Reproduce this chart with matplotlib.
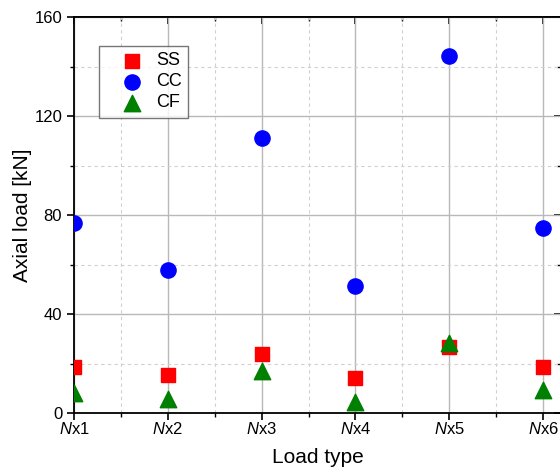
import numpy as np
import matplotlib.pyplot as plt
from matplotlib.ticker import MultipleLocator, FixedLocator

# -- Data
load_types = ['Nx1', 'Nx2', 'Nx3', 'Nx4', 'Nx5', 'Nx6']
ss_vals = [18.7, 15.4, 23.7, 14.0, 26.8, 18.5]
cc_vals = [76.8, 57.8, 111.2, 51.4, 144.2, 74.6]
cf_vals = [8.0, 5.5, 17.0, 4.3, 28.2, 9.3]

plt.rcParams['font.family'] = ['Liberation Sans', 'DejaVu Sans']
plt.rcParams['mathtext.fontset'] = 'custom'
plt.rcParams['mathtext.it'] = 'Liberation Sans:italic'
plt.rcParams['mathtext.rm'] = 'Liberation Sans'

fig = plt.figure(figsize=(5.6, 4.72), dpi=100)
ax = fig.add_axes([74 / 560, 1 - 413 / 472, (561 - 74) / 560, (413 - 17) / 472])

x = np.arange(1, len(load_types) + 1)
ax.scatter(x, ss_vals, marker='s', s=88, color='red', label='SS', zorder=3)
ax.scatter(x, cc_vals, marker='o', s=120, color='blue', label='CC', zorder=3)
ax.scatter(x, cf_vals, marker='^', s=140, color='green', label='CF', zorder=3)

# -- Axes limits and ticks
ax.set_xlim(1, 6 + 18 / 94)
ax.set_ylim(0, 160)
ax.xaxis.set_major_locator(FixedLocator(x))
ax.xaxis.set_minor_locator(FixedLocator(x[:-1] + 0.5))
ax.set_xticklabels([r'$\mathit{N}$' + t[1:] for t in load_types])
ax.yaxis.set_major_locator(MultipleLocator(40))
ax.yaxis.set_minor_locator(MultipleLocator(20))
ax.tick_params(axis='both', which='major', labelsize=12, direction='out', length=5, width=1.2)
ax.tick_params(axis='x', which='major', pad=0.5)
ax.tick_params(axis='both', which='minor', direction='out', length=3, width=1)

# -- Grid
ax.grid(True, which='major', color='#b8b8b8', linestyle='-', linewidth=1)
ax.grid(True, which='minor', color='#d0d0d0', linestyle=(0, (3, 3)), linewidth=0.8)
ax.set_axisbelow(True)
for sp in ax.spines.values():
    sp.set_linewidth(1.3)
ax.spines['right'].set_visible(False)

# -- Mirror ticks on top and right (inward)
secx = ax.secondary_xaxis('top')
secx.xaxis.set_major_locator(FixedLocator(x))
secx.xaxis.set_minor_locator(FixedLocator(x[:-1] + 0.5))
secx.tick_params(which='major', direction='in', length=5, width=1.2, labeltop=False)
secx.tick_params(which='minor', direction='in', length=3, width=1)
secx.spines['top'].set_linewidth(1.3)
secy = ax.secondary_yaxis('right')
secy.yaxis.set_major_locator(MultipleLocator(40))
secy.yaxis.set_minor_locator(MultipleLocator(20))
secy.tick_params(which='major', direction='in', length=5, width=1.2, labelright=False)
secy.tick_params(which='minor', direction='in', length=3, width=1)
secy.spines['right'].set_visible(False)

# -- Labels
ax.set_xlabel('Load type', fontsize=15, labelpad=8)
ax.set_ylabel('Axial load [kN]', fontsize=15, labelpad=2)

# -- Legend
leg = ax.legend(loc='upper left', bbox_to_anchor=(25 / 487, 1 - 29 / 396),
                fontsize=13, frameon=True, fancybox=False, edgecolor='#555555',
                handletextpad=-0.1, borderpad=0.35, labelspacing=0.22,
                borderaxespad=0, handlelength=2.9)
leg.get_frame().set_linewidth(1)

plt.savefig('out.png', dpi=100)
plt.close(fig)
